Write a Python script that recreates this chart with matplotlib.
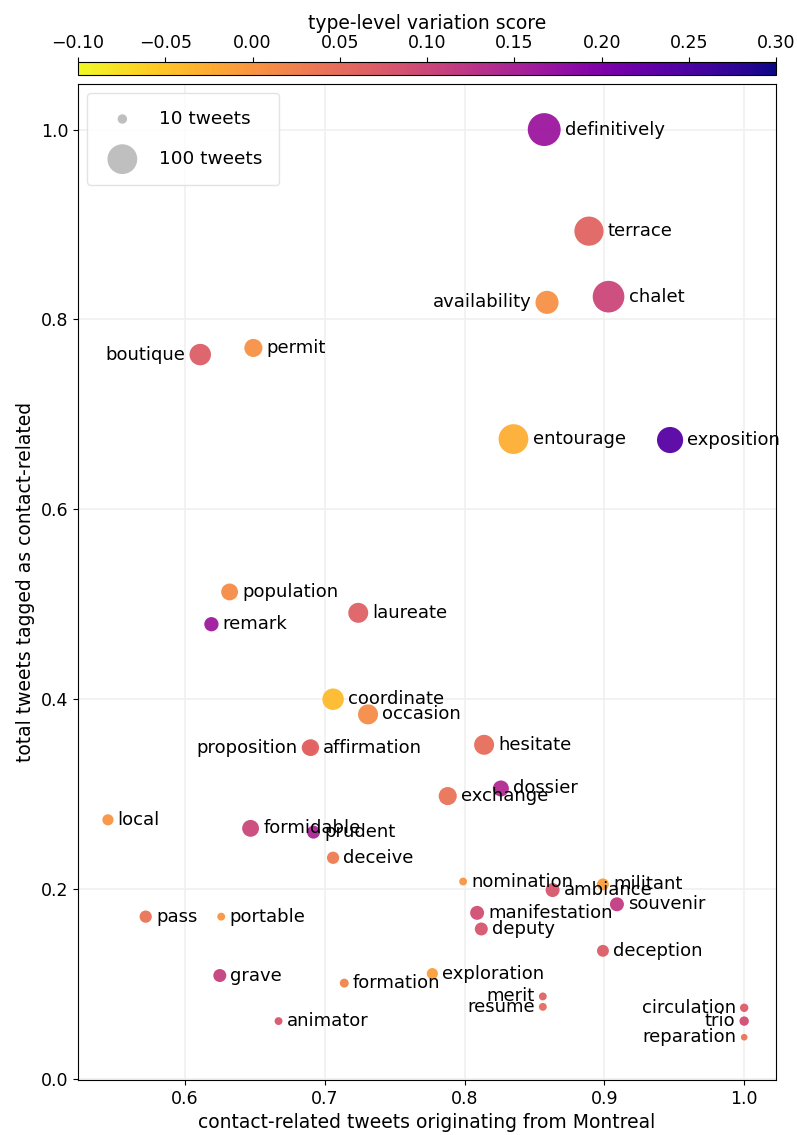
import numpy as np
import matplotlib
matplotlib.use("Agg")
import matplotlib.pyplot as plt
from matplotlib.colors import Normalize

# words, share from Montreal (x), total tagged (y), tweet counts (size), variation score (colour)
words = ["definitively", "terrace", "chalet", "availability", "boutique", "permit",
         "entourage", "exposition", "population", "remark", "laureate", "coordinate",
         "occasion", "proposition", "affirmation", "hesitate", "dossier", "exchange",
         "local", "formidable", "prudent", "deceive", "nomination", "ambiance",
         "militant", "souvenir", "manifestation", "deputy", "pass", "portable",
         "deception", "grave", "formation", "exploration", "merit", "resume",
         "animator", "circulation", "trio", "reparation"]
montreal = [0.857, 0.889, 0.903, 0.859, 0.611, 0.649,
            0.835, 0.947, 0.632, 0.619, 0.724, 0.706,
            0.731, 0.689, 0.690, 0.814, 0.826, 0.788,
            0.545, 0.647, 0.692, 0.706, 0.799, 0.863,
            0.899, 0.909, 0.809, 0.812, 0.572, 0.626,
            0.899, 0.625, 0.714, 0.777, 0.856, 0.856,
            0.667, 1.0, 1.0, 1.0]
tagged = [1.0, 0.893, 0.824, 0.818, 0.763, 0.770,
          0.674, 0.673, 0.513, 0.479, 0.491, 0.400,
          0.384, 0.349, 0.349, 0.352, 0.306, 0.298,
          0.273, 0.264, 0.260, 0.233, 0.208, 0.199,
          0.205, 0.184, 0.175, 0.158, 0.171, 0.171,
          0.135, 0.109, 0.101, 0.111, 0.087, 0.076,
          0.061, 0.075, 0.061, 0.044]
n_tweets = [122, 96, 113, 60, 52, 37,
            100, 77, 32, 23, 45, 52,
            45, 26, 32, 45, 29, 37,
            14, 32, 19, 17, 7, 22,
            16, 22, 22, 19, 17, 7,
            16, 19, 9, 14, 7, 7,
            7, 8, 10, 5]
score = [0.167, 0.06, 0.10, 0.005, 0.068, 0.005,
         -0.028, 0.24, 0.01, 0.164, 0.065, -0.04,
         0.012, 0.06, 0.06, 0.048, 0.14, 0.04,
         0.0, 0.10, 0.148, 0.03, 0.0, 0.08,
         -0.01, 0.116, 0.09, 0.08, 0.04, 0.0,
         0.07, 0.11, 0.02, -0.01, 0.06, 0.05,
         0.08, 0.07, 0.09, 0.04]
left_labels = ["boutique", "availability", "proposition", "merit", "resume",
               "circulation", "trio", "reparation"]

plt.rcParams['font.family'] = 'DejaVu Sans'
fig = plt.figure(figsize=(7.97, 11.35), dpi=100)
ax = fig.add_axes([0.0979, 0.0485, 0.876, 0.8775])
cax = fig.add_axes([0.0979, 0.934, 0.876, 0.0115])

k = 4.6  # marker area per tweet
norm = Normalize(vmin=-0.1, vmax=0.3)
sizes = np.array(n_tweets) * k
sc = ax.scatter(montreal, tagged, s=sizes, c=score, cmap="plasma_r", norm=norm,
                edgecolors="none", alpha=0.95, zorder=3)

for w, x, y, s in zip(words, montreal, tagged, sizes):
    off = np.sqrt(s) / 2 + 3
    if w in left_labels:
        ax.annotate(w, (x, y), xytext=(-off, 0), textcoords="offset points",
                    ha="right", va="center", fontsize=13, zorder=4)
    else:
        ax.annotate(w, (x, y), xytext=(off, 0), textcoords="offset points",
                    ha="left", va="center", fontsize=13, zorder=4)

# size legend
h1 = ax.scatter([], [], s=10 * k, color="gray", alpha=0.5, edgecolors="none")
h2 = ax.scatter([], [], s=100 * k, color="gray", alpha=0.5, edgecolors="none")
ax.legend([h1, h2], ["10 tweets", "100 tweets"], loc="upper left", fontsize=13.3,
          labelspacing=1.2, borderpad=0.9, handletextpad=1.0, framealpha=0.8,
          edgecolor="#dddddd")

ax.set_xlim(0.5236, 1.0229)
ax.set_ylim(-0.001, 1.048)
ax.set_xticks([0.6, 0.7, 0.8, 0.9, 1.0])
ax.set_yticks([0.0, 0.2, 0.4, 0.6, 0.8, 1.0])
ax.grid(True, color="#f0f0f0", lw=1.2, zorder=0)
ax.set_axisbelow(True)
ax.tick_params(labelsize=12.5)
ax.set_xlabel("contact-related tweets originating from Montreal", fontsize=13.5)
ax.set_ylabel("total tweets tagged as contact-related", fontsize=13.5)

cb = fig.colorbar(sc, cax=cax, orientation="horizontal")
cb.solids.set_alpha(1)
cax.xaxis.set_ticks_position("top")
cax.xaxis.set_label_position("top")
cb.set_ticks([-0.10, -0.05, 0.0, 0.05, 0.10, 0.15, 0.20, 0.25, 0.30])
cb.set_ticklabels(["\u22120.10", "\u22120.05", "0.00", "0.05", "0.10", "0.15",
                   "0.20", "0.25", "0.30"])
cax.tick_params(labelsize=12.5)
cb.set_label("type-level variation score", fontsize=13.5)

fig.savefig("out.png", dpi=100)
